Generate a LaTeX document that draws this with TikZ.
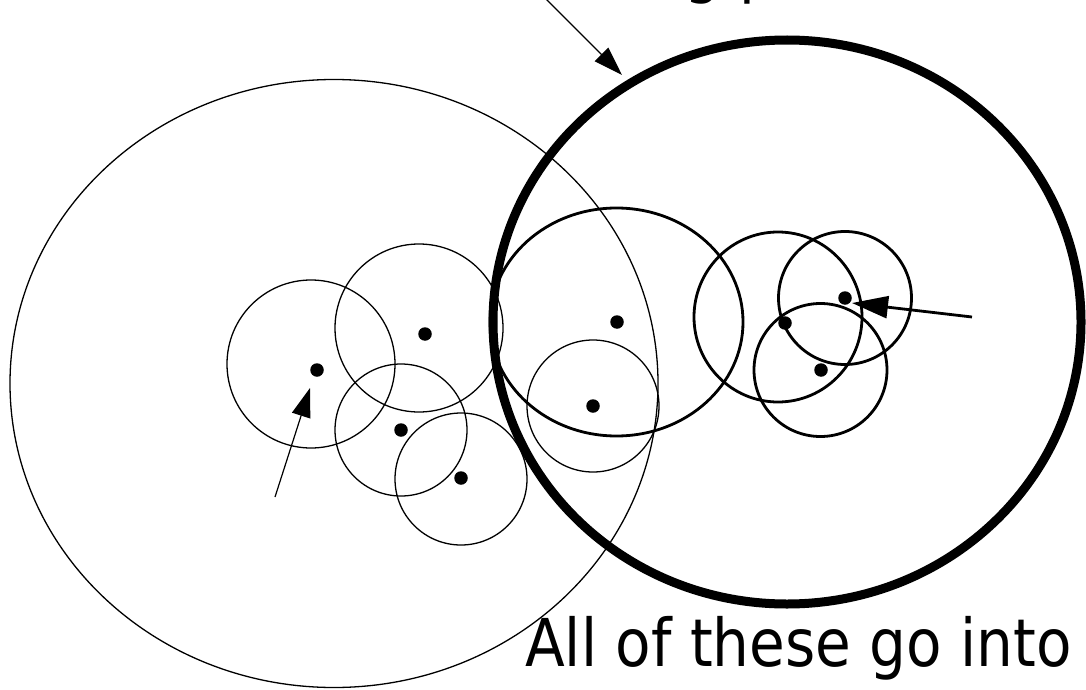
\documentclass[tikz,border=0pt]{standalone}
\usepackage{fontspec}
\setmainfont{DejaVu Sans}
\usetikzlibrary{arrows.meta}
\begin{document}
\begin{tikzpicture}[x=1pt,y=-1pt,
  thinc/.style={line width=1.3pt},
  medc/.style={line width=2.8pt},
  thickc/.style={line width=9pt},
  dotn/.style={circle,fill=black,inner sep=0pt,minimum size=13.5pt},
  arr/.style={-{Triangle[length=29pt,width=19pt]},line width=1.2pt},
  arrb/.style={-{Triangle[length=36pt,width=22pt]},line width=2.8pt},
  lbl/.style={font=\fontsize{66}{70}\selectfont, xscale=0.88, inner sep=0pt}
]
\useasboundingbox (0,0) rectangle (1086,690);
% large outlines
\draw[thinc] (334,383.5) ellipse [x radius=324, y radius=304];
\draw[thickc] (787,322) ellipse [x radius=294, y radius=282];
% small thin circles
\draw[thinc] (311,364) circle [radius=84];
\draw[thinc] (419,328) circle [radius=84];
\draw[thinc] (401,430) circle [radius=66];
\draw[thinc] (461,479) circle [radius=66];
\draw[thinc] (593,406) circle [radius=66];
% medium circles
\draw[medc] (616.5,322) ellipse [x radius=126.5, y radius=114];
\draw[medc] (778,317) ellipse [x radius=84, y radius=85];
\draw[medc] (845,298) circle [radius=66.5];
\draw[medc] (820.5,370) circle [radius=66.5];
% points
\node[dotn] (p1) at (317,370) {};
\node[dotn] (p2) at (425,334) {};
\node[dotn] (p3) at (401,430) {};
\node[dotn] (p4) at (461,478) {};
\node[dotn] (p5) at (617,322) {};
\node[dotn] (p6) at (593,406) {};
\node[dotn] (p7) at (785,323) {};
\node[dotn] (p8) at (845,298) {};
\node[dotn] (p9) at (821,370) {};
% arrows
\coordinate (a1t) at (275,497);
\coordinate (a1h) at (310,388);
\draw[arr] (a1t) -- (a1h);
\coordinate (a2t) at (972,317);
\coordinate (a2h) at (852,303);
\draw[arrb] (a2t) -- (a2h);
\coordinate (a3t) at (545,-2);
\coordinate (a3h) at (622,75);
\draw[arr] (a3t) -- (a3h);
% texts
\node[lbl, anchor=base west] (bottomtext) at (525,666) {All of these go into};
\node[lbl, anchor=base west] (toptext) at (684,-9) {g p};
\end{tikzpicture}
\end{document}
